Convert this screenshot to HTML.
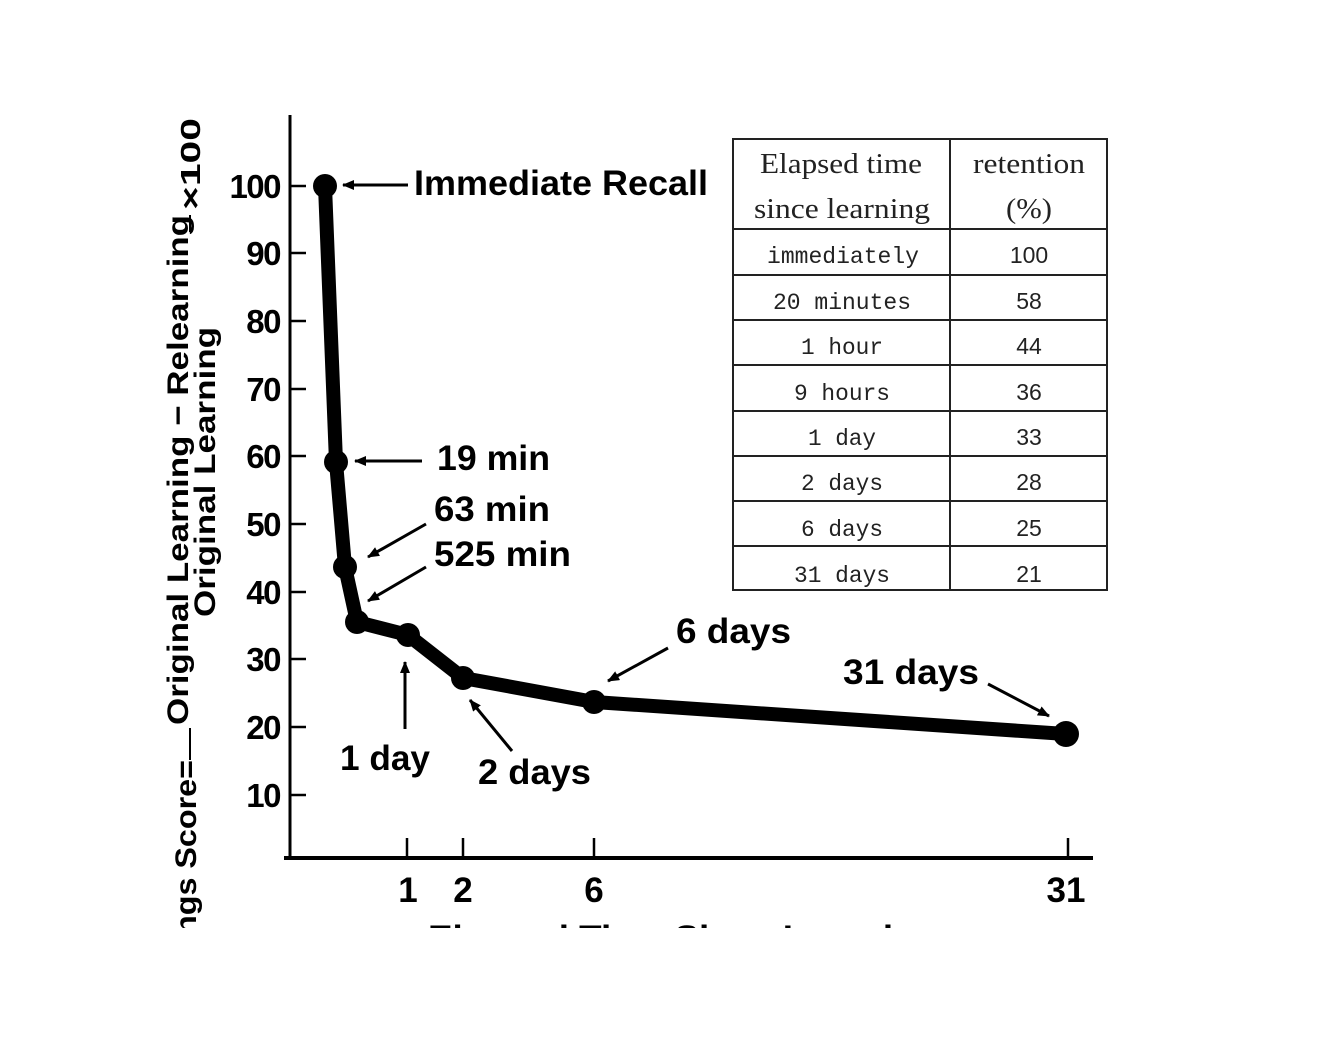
<!DOCTYPE html>
<html><head><meta charset="utf-8"><style>
html,body{margin:0;padding:0;background:#fff;}
svg{display:block;}
</style></head><body>
<svg width="1318" height="1046" viewBox="0 0 1318 1046" xmlns="http://www.w3.org/2000/svg">
<defs>
<marker id="ah" markerWidth="12" markerHeight="10" refX="11" refY="5" orient="auto" markerUnits="userSpaceOnUse" viewBox="0 0 12 10">
<path d="M0,0 L12,5 L0,10 z" fill="#000"/>
</marker>
<clipPath id="cut"><rect x="0" y="0" width="1318" height="928"/></clipPath>
</defs>
<rect width="1318" height="1046" fill="#fff"/>
<g clip-path="url(#cut)">
<line x1="290" y1="115" x2="290" y2="859" stroke="#000" stroke-width="3"/>
<line x1="284" y1="858" x2="1093" y2="858" stroke="#000" stroke-width="4"/>
<g stroke="#000" stroke-width="2.5">
<line x1="290" y1="186" x2="306" y2="186"/>
<line x1="290" y1="253" x2="306" y2="253"/>
<line x1="290" y1="321" x2="306" y2="321"/>
<line x1="290" y1="389" x2="306" y2="389"/>
<line x1="290" y1="456" x2="306" y2="456"/>
<line x1="290" y1="524" x2="306" y2="524"/>
<line x1="290" y1="592" x2="306" y2="592"/>
<line x1="290" y1="659" x2="306" y2="659"/>
<line x1="290" y1="727" x2="306" y2="727"/>
<line x1="290" y1="795" x2="306" y2="795"/>
<line x1="407" y1="838" x2="407" y2="858"/>
<line x1="463" y1="838" x2="463" y2="858"/>
<line x1="594" y1="838" x2="594" y2="858"/>
<line x1="1068" y1="838" x2="1068" y2="858"/>
</g>
<g font-family="Liberation Sans, sans-serif" font-size="33" font-weight="bold" text-anchor="end" fill="#000" letter-spacing="-1.5">
<text x="280" y="198">100</text>
<text x="280" y="265">90</text>
<text x="280" y="333">80</text>
<text x="280" y="401">70</text>
<text x="280" y="468">60</text>
<text x="280" y="536">50</text>
<text x="280" y="604">40</text>
<text x="280" y="671">30</text>
<text x="280" y="739">20</text>
<text x="280" y="807">10</text>
</g>
<g font-family="Liberation Sans, sans-serif" font-size="35" font-weight="bold" text-anchor="middle" fill="#000">
<text x="408" y="902">1</text>
<text x="463" y="902">2</text>
<text x="594" y="902">6</text>
<text x="1066" y="902">31</text>
<text x="428" y="950" text-anchor="start" textLength="510" lengthAdjust="spacingAndGlyphs">Elapsed Time Since Learning</text>
</g>
<g font-family="Liberation Sans, sans-serif" font-weight="bold" fill="#000">
<text transform="translate(188,725) rotate(-90)" font-size="30" textLength="510" lengthAdjust="spacingAndGlyphs">Original Learning − Relearning</text>
<text transform="translate(215,617) rotate(-90)" font-size="30" textLength="290" lengthAdjust="spacingAndGlyphs">Original Learning</text>
<text transform="translate(196,935) rotate(-90)" font-size="30" textLength="175" lengthAdjust="spacingAndGlyphs">ngs Score=</text>
<text transform="translate(200,210) rotate(-90)" font-size="28" textLength="92" lengthAdjust="spacingAndGlyphs">×100</text>
</g>
<line x1="190" y1="215" x2="190" y2="232" stroke="#000" stroke-width="2"/>
<line x1="190" y1="728" x2="190" y2="760" stroke="#000" stroke-width="2"/>
<polyline points="325,186 336,462 345,567 357,622 408,635 463,678 594,702 1066,734" fill="none" stroke="#000" stroke-width="14" stroke-linejoin="round" stroke-linecap="round"/>
<g fill="#000">
<circle cx="325" cy="186" r="12"/>
<circle cx="336" cy="462" r="12"/>
<circle cx="345" cy="567" r="12"/>
<circle cx="357" cy="622" r="12"/>
<circle cx="408" cy="635" r="12"/>
<circle cx="463" cy="678" r="12"/>
<circle cx="594" cy="702" r="12"/>
<circle cx="1066" cy="734" r="13"/>
</g>
<g stroke="#000" stroke-width="3" marker-end="url(#ah)">
<line x1="408" y1="185" x2="343" y2="185"/>
<line x1="422" y1="461" x2="355" y2="461"/>
<line x1="426" y1="524" x2="368" y2="557"/>
<line x1="426" y1="567" x2="368" y2="601"/>
<line x1="405" y1="729" x2="405" y2="662"/>
<line x1="512" y1="751" x2="470" y2="700"/>
<line x1="668" y1="648" x2="608" y2="681"/>
<line x1="988" y1="684" x2="1049" y2="716"/>
</g>
<g font-family="Liberation Sans, sans-serif" font-size="35" font-weight="bold" fill="#000" lengthAdjust="spacingAndGlyphs">
<text x="414" y="195" textLength="294" lengthAdjust="spacingAndGlyphs">Immediate Recall</text>
<text x="437" y="470" textLength="113" lengthAdjust="spacingAndGlyphs">19 min</text>
<text x="434" y="521" textLength="116" lengthAdjust="spacingAndGlyphs">63 min</text>
<text x="434" y="566" textLength="137" lengthAdjust="spacingAndGlyphs">525 min</text>
<text x="340" y="770" textLength="90" lengthAdjust="spacingAndGlyphs">1 day</text>
<text x="478" y="784" textLength="113" lengthAdjust="spacingAndGlyphs">2 days</text>
<text x="676" y="643" textLength="115" lengthAdjust="spacingAndGlyphs">6 days</text>
<text x="843" y="684" textLength="136" lengthAdjust="spacingAndGlyphs">31 days</text>
</g>
<g stroke="#222" stroke-width="2" fill="none">
<rect x="733" y="139" width="374" height="451"/>
<line x1="950" y1="139" x2="950" y2="590"/>
<line x1="733" y1="229" x2="1107" y2="229"/>
<line x1="733" y1="275" x2="1107" y2="275"/>
<line x1="733" y1="320" x2="1107" y2="320"/>
<line x1="733" y1="365" x2="1107" y2="365"/>
<line x1="733" y1="411" x2="1107" y2="411"/>
<line x1="733" y1="456" x2="1107" y2="456"/>
<line x1="733" y1="501" x2="1107" y2="501"/>
<line x1="733" y1="546" x2="1107" y2="546"/>
</g>
<g font-family="Liberation Serif, serif" font-size="28" fill="#222">
<text x="760" y="173" textLength="162" lengthAdjust="spacingAndGlyphs">Elapsed time</text>
<text x="754" y="218" textLength="176" lengthAdjust="spacingAndGlyphs">since learning</text>
<text x="973" y="173" textLength="112" lengthAdjust="spacingAndGlyphs">retention</text>
<text x="1006" y="218" textLength="46" lengthAdjust="spacingAndGlyphs">(%)</text>
</g>
<g font-family="Liberation Mono, monospace" font-size="23" fill="#222" text-anchor="middle">
<text x="843" y="263" textLength="152" lengthAdjust="spacingAndGlyphs">immediately</text>
<text x="842" y="309" textLength="138" lengthAdjust="spacingAndGlyphs">20 minutes</text>
<text x="842" y="354" textLength="82" lengthAdjust="spacingAndGlyphs">1 hour</text>
<text x="842" y="400" textLength="96" lengthAdjust="spacingAndGlyphs">9 hours</text>
<text x="842" y="445" textLength="68" lengthAdjust="spacingAndGlyphs">1 day</text>
<text x="842" y="490" textLength="82" lengthAdjust="spacingAndGlyphs">2 days</text>
<text x="842" y="536" textLength="82" lengthAdjust="spacingAndGlyphs">6 days</text>
<text x="842" y="582" textLength="96" lengthAdjust="spacingAndGlyphs">31 days</text>
</g>
<g font-family="Liberation Sans, sans-serif" font-size="23" fill="#222" text-anchor="middle">
<text x="1029" y="263">100</text>
<text x="1029" y="309">58</text>
<text x="1029" y="354">44</text>
<text x="1029" y="400">36</text>
<text x="1029" y="445">33</text>
<text x="1029" y="490">28</text>
<text x="1029" y="536">25</text>
<text x="1029" y="582">21</text>
</g>
</g>
</svg>
</body></html>
